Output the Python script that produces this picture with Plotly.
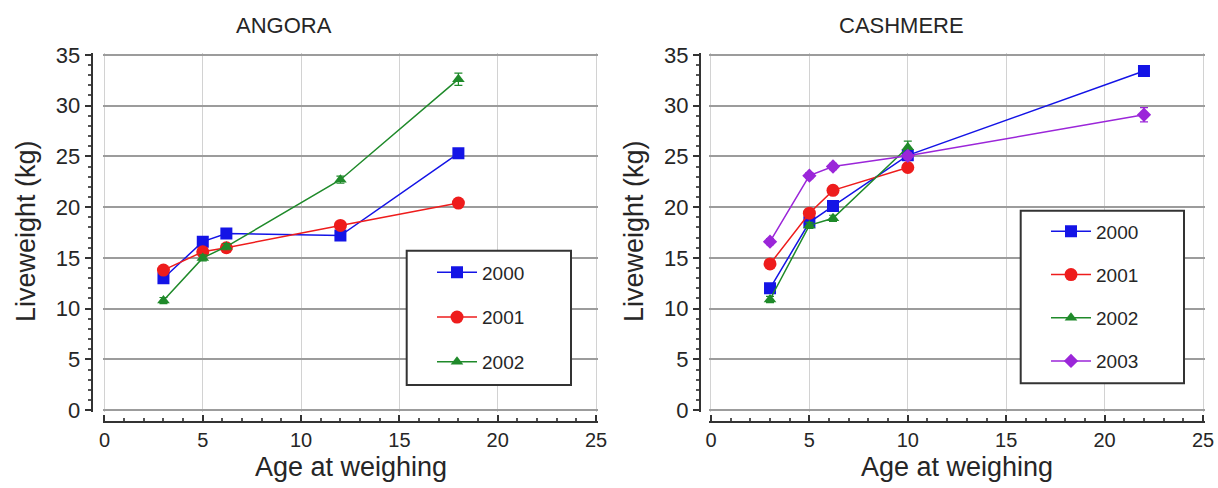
import plotly.graph_objects as go

# ---------------- data ----------------
angora_age = [3, 5, 6.2, 12, 18]
angora_2000 = [13.0, 16.6, 17.4, 17.2, 25.3]
angora_2001 = [13.8, 15.6, 16.0, 18.2, 20.4]
angora_2002 = [10.8, 15.0, 16.1, 22.7, 32.6]
angora_2000_err = [0.3, 0.3, 0.3, 0.3, 0.4]
angora_2001_err = [0.3, 0.3, 0.3, 0.3, 0.4]
angora_2002_err = [0.3, 0.3, 0.3, 0.35, 0.6]

cash_age_4 = [3, 5, 6.2, 10]
cash_age_5 = [3, 5, 6.2, 10, 22]
cash_2000 = [12.0, 18.5, 20.1, 25.1, 33.4]
cash_2001 = [14.4, 19.4, 21.65, 23.9]
cash_2002 = [10.9, 18.2, 18.9, 25.9]
cash_2003 = [16.6, 23.1, 24.0, 25.05, 29.1]
cash_2000_err = [0.3, 0.3, 0.3, 0.3, 0.4]
cash_2001_err = [0.3, 0.3, 0.3, 0.3]
cash_2002_err = [0.3, 0.3, 0.3, 0.6]
cash_2003_err = [0.3, 0.3, 0.3, 0.3, 0.7]

years = ["2000", "2001", "2002", "2003"]
colors = {"2000": "#1414e6", "2001": "#ee1c1c", "2002": "#1f8a2a", "2003": "#9b26d9"}
symbols = {"2000": "square", "2001": "circle", "2002": "triangle-up", "2003": "diamond"}
msize = {"2000": 12, "2001": 13, "2002": 11, "2003": 11}

x_ticks = [0, 5, 10, 15, 20, 25]
y_ticks = [0, 5, 10, 15, 20, 25, 30, 35]

FONT = "Liberation Sans, Arial, Helvetica, sans-serif"
TXT = "#262626"
W, H = 1218, 488

fig = go.Figure()

def add(x, y, err, yr, xa, ya, leg):
    fig.add_trace(go.Scatter(
        x=x, y=y, mode="lines+markers", name=yr,
        line=dict(color=colors[yr], width=1.5),
        marker=dict(symbol=symbols[yr], size=msize[yr], color=colors[yr]),
        error_y=dict(type="data", array=err, color=colors[yr], thickness=1.2, width=4),
        xaxis=xa, yaxis=ya, legend=leg, legendgroup=leg + yr,
    ))

add(angora_age, angora_2000, angora_2000_err, "2000", "x", "y", "legend")
add(angora_age, angora_2001, angora_2001_err, "2001", "x", "y", "legend")
add(angora_age, angora_2002, angora_2002_err, "2002", "x", "y", "legend")
add(cash_age_5, cash_2000, cash_2000_err, "2000", "x2", "y2", "legend2")
add(cash_age_4, cash_2001, cash_2001_err, "2001", "x2", "y2", "legend2")
add(cash_age_4, cash_2002, cash_2002_err, "2002", "x2", "y2", "legend2")
add(cash_age_5, cash_2003, cash_2003_err, "2003", "x2", "y2", "legend2")

def px_x(p):
    return p / W

def px_y(p):
    return 1 - p / H

ydom = [px_y(411.7), px_y(53.3)]
xax_common = dict(
    range=[-0.1, 25.1], tickvals=x_ticks, showgrid=True, gridcolor="#d2d2d2", gridwidth=1,
    zeroline=False, showline=True, linecolor="#333333", linewidth=2,
    ticks="inside", ticklen=6, tickwidth=1.5, tickcolor="#333333",
    tickfont=dict(family=FONT, size=20, color=TXT),
    minor=dict(dtick=1, ticks="inside", ticklen=3, tickcolor="#555555", showgrid=False),
    anchor="free", position=px_y(421.7), automargin=False,
)
yax_common = dict(
    range=[-0.15, 35.15], tickvals=y_ticks, showgrid=True, gridcolor="#9c9c9c", gridwidth=1.5,
    zeroline=False, showline=True, linecolor="#333333", linewidth=2,
    ticks="outside", ticklen=6, tickwidth=1.5, tickcolor="#333333",
    tickfont=dict(family=FONT, size=22, color=TXT),
    minor=dict(dtick=1, ticks="outside", ticklen=3, tickcolor="#555555", showgrid=False),
    domain=ydom, anchor="free", automargin=False,
)

fig.update_layout(
    width=W, height=H, margin=dict(l=0, r=0, t=0, b=0, autoexpand=False),
    paper_bgcolor="white", plot_bgcolor="white",
    font=dict(family=FONT, color=TXT),
    xaxis=dict(domain=[px_x(102.5), px_x(598)], **xax_common),
    yaxis=dict(position=px_x(91.7), **yax_common),
    xaxis2=dict(domain=[px_x(709), px_x(1205)], **xax_common),
    yaxis2=dict(position=px_x(700), **yax_common),
    legend=dict(x=px_x(432), y=px_y(253.5), xanchor="left", yanchor="top",
                bgcolor="rgba(0,0,0,0)", borderwidth=0, itemwidth=40,
                tracegroupgap=17, font=dict(family=FONT, size=19, color=TXT)),
    legend2=dict(x=px_x(1046), y=px_y(212.5), xanchor="left", yanchor="top",
                 bgcolor="rgba(0,0,0,0)", borderwidth=0, itemwidth=40,
                 tracegroupgap=15.5, font=dict(family=FONT, size=19, color=TXT)),
    showlegend=True,
)

# legend frames
fig.add_shape(type="rect", xref="paper", yref="paper",
              x0=px_x(406.7), x1=px_x(571), y0=px_y(385), y1=px_y(250.7),
              fillcolor="white", line=dict(color="#333333", width=2), layer="above")
fig.add_shape(type="rect", xref="paper", yref="paper",
              x0=px_x(1020.7), x1=px_x(1184), y0=px_y(383.3), y1=px_y(210.7),
              fillcolor="white", line=dict(color="#333333", width=2), layer="above")

# titles
def text(t, x, y, size, angle=0):
    fig.add_annotation(text=t, x=px_x(x), y=px_y(y), xref="paper", yref="paper",
                       xanchor="center", yanchor="middle", showarrow=False, textangle=angle,
                       font=dict(family=FONT, size=size, color=TXT))

text("ANGORA", 284, 25, 22)
text("CASHMERE", 901, 25, 22)
text("Age at weighing", 351, 467, 27)
text("Age at weighing", 957, 467, 27)
text("Liveweight (kg)", 26, 231, 27, -90)
text("Liveweight (kg)", 634, 231, 27, -90)

fig.write_html(
    "out.html",
    config={"displayModeBar": False},
    post_script="document.body.style.margin='0px';document.body.style.padding='0px';",
)
